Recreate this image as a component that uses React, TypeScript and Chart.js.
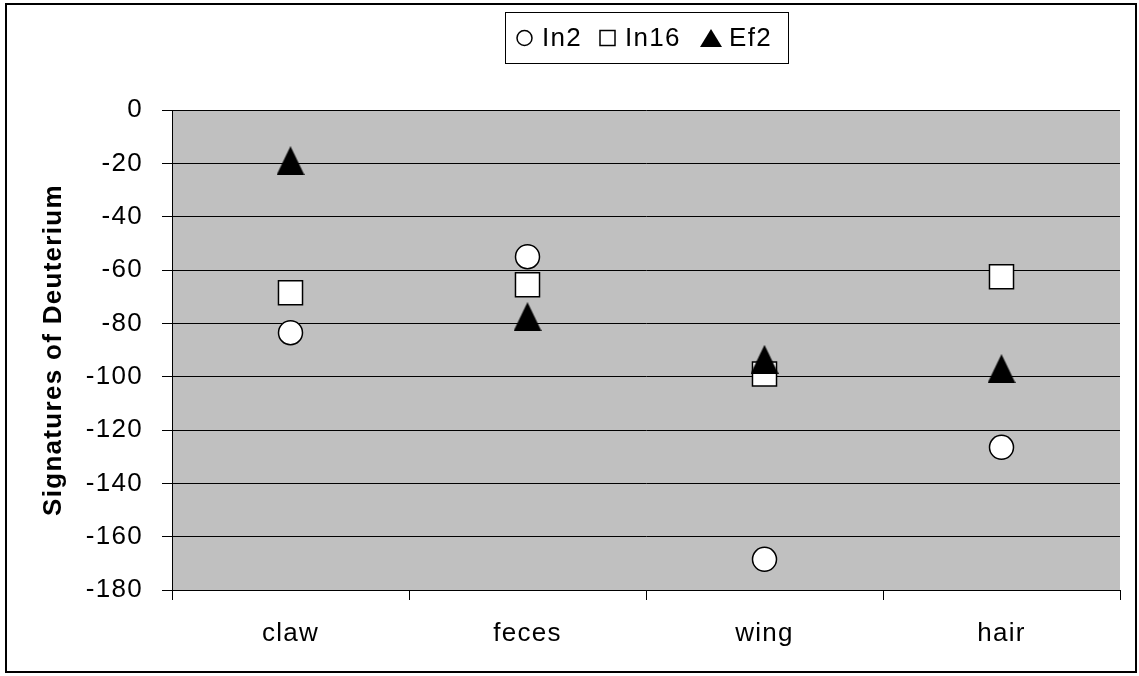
import React, { useEffect, useRef } from 'react';
import { Chart, registerables } from 'chart.js';

Chart.register(...registerables);

const categories = ['claw', 'feces', 'wing', 'hair'];
const seriesNames = ['In2', 'In16', 'Ef2'];
const in2Values = [-83.5, -55, -168.5, -126.5];
const in16Values = [-68.5, -65.5, -99, -62.5];
const ef2Values = [-19, -77.5, -93.5, -97];
const yMin = -180;
const yMax = 0;
const yStep = 20;
const yTitle = 'Signatures of Deuterium';

const FONT = '"Liberation Sans", Arial, sans-serif';

function makeTriangle(w: number, h: number): HTMLCanvasElement {
  const c = document.createElement('canvas');
  c.width = w;
  c.height = h;
  const ctx = c.getContext('2d')!;
  ctx.fillStyle = '#000';
  ctx.beginPath();
  ctx.moveTo(w / 2, 0);
  ctx.lineTo(w, h);
  ctx.lineTo(0, h);
  ctx.closePath();
  ctx.fill();
  return c;
}

const framePlugin = {
  id: 'framePlugin',
  beforeLayout(chart: any) {
    chart.ctx.letterSpacing = '1.3px';
  },
  beforeDraw(chart: any) {
    const { ctx, chartArea: a } = chart;
    ctx.letterSpacing = '1.3px';
    ctx.save();
    ctx.fillStyle = '#fff';
    ctx.fillRect(0, 0, chart.width, chart.height);
    ctx.fillStyle = '#c0c0c0';
    ctx.fillRect(a.left, a.top, a.right - a.left, a.bottom - a.top);
    ctx.restore();
  },
  afterDraw(chart: any) {
    const { ctx, chartArea: a } = chart;
    ctx.save();
    // outer border
    ctx.strokeStyle = '#000';
    ctx.lineWidth = 2;
    ctx.strokeRect(6, 4, 1130, 668);

    // legend
    const labels = chart.data.datasets.map((d: any) => d.label);
    const cx = (a.left + a.right) / 2;
    const boxW = 283;
    const boxTop = 12;
    const boxH = 51;
    const left = Math.round(cx - boxW / 2);
    ctx.lineWidth = 1;
    ctx.strokeStyle = '#000';
    ctx.strokeRect(left + 0.5, boxTop + 0.5, boxW, boxH);
    const cy = boxTop + boxH / 2 + 0.5;

    ctx.fillStyle = '#fff';
    ctx.lineWidth = 1.5;
    ctx.beginPath();
    ctx.arc(left + 19.5, cy, 7.5, 0, Math.PI * 2);
    ctx.fill();
    ctx.stroke();

    ctx.fillStyle = '#fff';
    ctx.fillRect(left + 95, cy - 7.5, 15, 15);
    ctx.strokeRect(left + 95, cy - 7.5, 15, 15);

    ctx.fillStyle = '#000';
    ctx.beginPath();
    ctx.moveTo(left + 206, cy - 9);
    ctx.lineTo(left + 217, cy + 9);
    ctx.lineTo(left + 195, cy + 9);
    ctx.closePath();
    ctx.fill();

    ctx.letterSpacing = '1.3px';
    ctx.font = `26px ${FONT}`;
    ctx.textBaseline = 'middle';
    ctx.textAlign = 'left';
    ctx.fillStyle = '#000';
    ctx.fillText(labels[0], left + 37, cy + 1);
    ctx.fillText(labels[1], left + 120, cy + 1);
    ctx.fillText(labels[2], left + 224, cy + 1);
    ctx.restore();
  },
};

export default function App() {
  const ref = useRef<HTMLCanvasElement>(null);

  useEffect(() => {
    const canvas = ref.current!;
    const tri = makeTriangle(28, 29);
    const chart = new Chart(canvas, {
      type: 'line',
      data: {
        labels: categories,
        datasets: [
          {
            label: seriesNames[0],
            data: in2Values,
            showLine: false,
            pointStyle: 'circle',
            pointRadius: 12,
            pointBackgroundColor: '#fff',
            pointBorderColor: '#000',
            pointBorderWidth: 1.5,
            order: 2,
          },
          {
            label: seriesNames[1],
            data: in16Values,
            showLine: false,
            pointStyle: 'rect',
            pointRadius: 17,
            pointBackgroundColor: '#fff',
            pointBorderColor: '#000',
            pointBorderWidth: 1.5,
            order: 1,
          },
          {
            label: seriesNames[2],
            data: ef2Values,
            showLine: false,
            pointStyle: tri as any,
            pointRadius: 14,
            pointBackgroundColor: '#000',
            pointBorderColor: '#000',
            order: 0,
          },
        ],
      },
      options: {
        responsive: false,
        animation: false,
        events: [],
        layout: { padding: { left: 0, top: 110, right: 19, bottom: 0 } },
        plugins: {
          legend: { display: false },
          tooltip: { enabled: false },
        },
        scales: {
          x: {
            type: 'category',
            offset: true,
            grid: {
              display: true,
              drawOnChartArea: false,
              drawTicks: true,
              tickLength: 10,
              offset: true,
              color: '#000',
            },
            border: { color: '#000', width: 1 },
            ticks: {
              color: '#000',
              font: { family: FONT, size: 26 },
              padding: 18,
              maxRotation: 0,
            },
            afterFit(scale: any) {
              scale.height = 86;
            },
          },
          y: {
            min: yMin,
            max: yMax,
            ticks: {
              stepSize: yStep,
              color: '#000',
              font: { family: FONT, size: 26 },
              padding: 19,
            },
            grid: { color: '#000', lineWidth: 1, tickLength: 10, drawTicks: true },
            border: { color: '#000', width: 1 },
            title: {
              display: true,
              text: yTitle,
              color: '#000',
              font: { family: FONT, size: 26, weight: 'bold' },
              padding: { top: 38, bottom: 0 },
            },
            afterFit(scale: any) {
              scale.width = 172;
            },
          },
        },
      },
      plugins: [framePlugin],
    });
    return () => chart.destroy();
  }, []);

  return (
    <div style={{ position: 'absolute', left: 0, top: 0, width: 1139, height: 676 }}>
      <canvas ref={ref} width={1139} height={676} style={{ display: 'block' }} />
    </div>
  );
}
